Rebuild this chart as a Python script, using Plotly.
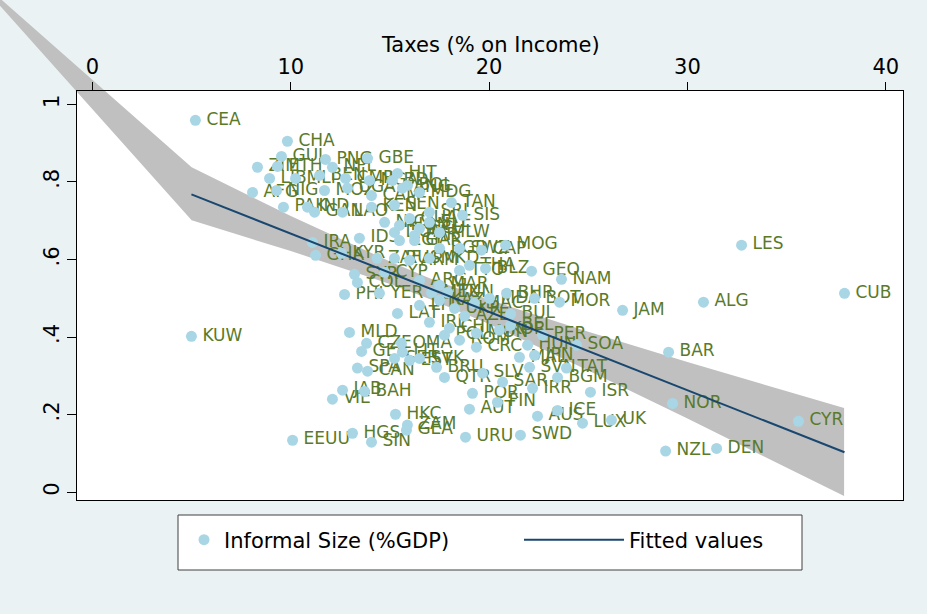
import plotly.graph_objects as go

# ---------------- data ----------------
codes = ["CEA","CHA","GUI","PNG","GBE","ZIM","ETH","NPL","HIT","LIB","MLI","BEN","CMR","NGA","BDI","BOL",
         "AFG","NIG","MOZ","UGA","CAM","ANG","MDG","PAK","IND","GAN","LAO","KEN","SEN","SRI","TAN","SIS",
         "NIC","HON","GUA","ECU","SLE","DOM","PAR","MLW","IRA","IDS","EGY","GAR","BGD","SWZ","CAP","MOG",
         "GHA","KYR","ZAF","RUS","ARM","MKD","SYR","CYP","COL","ARG","MAR","BLZ","TTO","THA","GEO","NAM",
         "PHI","YER","MEX","TUN","BHR","MDA","BOT","MOR","JAM","ALG","LES","CUB","LAT","LTU","KAZ","UKR",
         "AZE","BUL","BEL","MAC","IRL","CHI","MON","POL","ROM","KOR","MLD","CZE","OMA","GER","LIT","SER",
         "EST","SVK","SPA","CAN","BRU","QTR","SLV","SAR","SVN","TAT","SOA","HUN","PER","MAL","JPN","CRC",
         "BGM","POR","IRR","ISR","FIN","AUT","AUS","ICE","LUX","UK","NOR","BAR","NZL","DEN","CYR","SWD",
         "URU","HKC","ZAM","GEA","HGS","SIN","EEUU","JAB","BAH","VIE","KUW"]
tax = [5.19,9.83,9.53,11.75,13.87,8.32,9.33,12.10,15.38,8.93,10.24,11.45,12.76,13.97,15.13,15.88,
       8.07,9.28,11.70,12.86,14.07,15.63,16.49,9.63,10.84,11.20,12.61,14.07,15.23,16.99,18.10,18.66,
       14.73,15.48,15.99,16.49,16.99,15.23,16.24,17.50,11.09,13.46,15.48,16.24,17.50,18.51,19.62,20.83,
       11.25,12.56,14.35,15.23,15.99,16.99,13.21,14.73,13.36,16.49,17.50,19.82,18.51,19.01,22.14,23.65,
       12.71,14.47,17.10,17.90,20.88,20.02,22.29,23.55,26.73,30.81,32.73,37.92,15.38,16.49,17.50,18.26,
       18.76,21.08,21.08,19.26,16.99,18.00,19.36,17.75,18.51,20.52,12.96,13.82,15.58,13.57,15.63,15.23,
       15.99,16.49,13.36,13.87,17.35,17.75,19.67,20.68,22.04,23.90,24.41,21.94,22.69,21.53,22.29,19.36,
       23.45,19.16,22.19,25.11,20.42,19.01,22.44,23.45,24.71,26.17,29.25,29.05,28.90,31.47,35.60,21.58,
       18.81,15.28,15.88,15.83,13.11,14.07,10.09,12.61,13.72,12.10,4.99]
informal = [0.959,0.905,0.866,0.858,0.861,0.838,0.840,0.838,0.822,0.809,0.809,0.817,0.809,0.804,0.804,0.791,
            0.773,0.778,0.778,0.784,0.765,0.784,0.773,0.735,0.735,0.722,0.722,0.735,0.740,0.722,0.747,0.714,
            0.696,0.688,0.706,0.680,0.696,0.670,0.662,0.670,0.644,0.655,0.649,0.649,0.629,0.629,0.624,0.637,
            0.611,0.616,0.603,0.603,0.598,0.603,0.562,0.567,0.541,0.546,0.534,0.577,0.572,0.585,0.570,0.549,
            0.510,0.513,0.515,0.515,0.513,0.500,0.500,0.490,0.469,0.490,0.637,0.513,0.461,0.482,0.495,0.474,
            0.454,0.459,0.430,0.487,0.438,0.423,0.410,0.405,0.392,0.418,0.412,0.384,0.384,0.363,0.361,0.345,
            0.340,0.345,0.320,0.312,0.322,0.296,0.307,0.284,0.322,0.320,0.379,0.379,0.405,0.348,0.353,0.374,
            0.296,0.255,0.268,0.258,0.232,0.214,0.196,0.211,0.178,0.186,0.229,0.361,0.106,0.113,0.183,0.147,
            0.142,0.201,0.173,0.160,0.152,0.129,0.134,0.263,0.260,0.240,0.402]

fit_x = [4.99, 37.92]
fit_y = [0.768, 0.103]

band_x = [-6.23, 5.0, 10.0, 15.0, 17.0, 20.0, 25.0, 30.0, 37.9]
band_hi = [1.344, 0.838, 0.712, 0.595, 0.552, 0.496, 0.414, 0.336, 0.217]
band_lo = [1.344, 0.701, 0.622, 0.537, 0.498, 0.434, 0.314, 0.190, -0.010]

x_ticks = [0, 10, 20, 30, 40]
y_ticks = [0, 0.2, 0.4, 0.6, 0.8, 1.0]
y_ticktext = ["0", ".2", ".4", ".6", ".8", "1"]
x_title = "Taxes (% on Income)"

# ---------------- geometry / style ----------------
W, H = 927, 614
L, R, T, B = 77, 903, 91, 500
xr = [-0.78, 40.87]
yr = [-0.0201, 1.0346]
dx = [L / W, R / W]
dy = [1 - B / H, 1 - T / H]


def full_range(r, d):
    span = (r[1] - r[0]) / (d[1] - d[0])
    return [r[0] - d[0] * span, r[1] + (1 - d[1]) * span]


FONT = "DejaVu Sans"
BG = "#EAF2F3"
MARKER = "#A9D6E5"
LABEL = "#5A7A2A"
NAVY = "#1A476F"
BAND = "#C0C0C0"

fig = go.Figure()

# confidence band on a full-figure invisible subplot (overflows the plot region like the original)
fig.add_trace(go.Scatter(
    x=band_x + band_x[::-1], y=band_hi + band_lo[::-1],
    mode="lines", fill="toself", fillcolor=BAND, line=dict(width=0, color=BAND),
    xaxis="x2", yaxis="y2", showlegend=False, hoverinfo="skip"))

# labels
fig.add_trace(go.Scatter(
    x=tax, y=informal, text=codes, mode="markers+text", textposition="middle right",
    marker=dict(size=16, color="rgba(0,0,0,0)"),
    textfont=dict(family=FONT, size=17, color=LABEL),
    xaxis="x3", yaxis="y3", showlegend=False, hoverinfo="skip"))

# markers
fig.add_trace(go.Scatter(
    x=tax, y=informal, mode="markers", name="Informal Size (%GDP)",
    marker=dict(size=11, color=MARKER, line=dict(width=0)),
    xaxis="x3", yaxis="y3", legend="legend"))

# fitted line
fig.add_trace(go.Scatter(
    x=fit_x, y=fit_y, mode="lines", name="Fitted values",
    line=dict(color=NAVY, width=2),
    xaxis="x3", yaxis="y3", legend="legend2"))

fig.update_layout(
    width=W, height=H,
    margin=dict(l=0, r=0, t=0, b=0, pad=0),
    paper_bgcolor=BG, plot_bgcolor="rgba(0,0,0,0)",
    font=dict(family=FONT, size=21, color="black"),
    xaxis=dict(domain=dx, range=xr, anchor="y", showgrid=False, zeroline=False,
               showticklabels=False, ticks="", showline=False),
    yaxis=dict(domain=dy, range=yr, anchor="x", tickvals=y_ticks, showgrid=True,
               gridcolor="#E2ECEF", gridwidth=2, zeroline=False, showticklabels=False,
               ticks="", showline=False),
    xaxis2=dict(domain=[0, 1], range=full_range(xr, dx), anchor="y2", visible=False),
    yaxis2=dict(domain=[0, 1], range=full_range(yr, dy), anchor="x2", visible=False),
    xaxis3=dict(domain=dx, range=xr, anchor="y3", side="top", tickvals=x_ticks,
                ticks="outside", ticklen=8, tickcolor="black", tickwidth=1,
                showline=True, mirror=True, linecolor="black", linewidth=1,
                showgrid=False, zeroline=False,
                tickfont=dict(family=FONT, size=21, color="black")),
    yaxis3=dict(domain=dy, range=yr, anchor="x3", tickvals=y_ticks, ticktext=y_ticktext,
                tickangle=-90, ticks="outside", ticklen=9, tickcolor="black", tickwidth=1,
                showline=True, mirror=True, linecolor="black", linewidth=1,
                showgrid=False, zeroline=False,
                tickfont=dict(family=FONT, size=21, color="black")),
    annotations=[dict(text=x_title, xref="paper", yref="paper",
                      x=(dx[0] + dx[1]) / 2, y=1 - 45 / H, xanchor="center", yanchor="middle",
                      showarrow=False, font=dict(family=FONT, size=21, color="black"))],
    legend=dict(x=184 / W, y=1 - 540 / H, xanchor="left", yanchor="middle",
                orientation="h", bgcolor="rgba(0,0,0,0)", borderwidth=0,
                itemwidth=30, font=dict(family=FONT, size=21, color="black")),
    legend2=dict(x=519 / W, y=1 - 540 / H, xanchor="left", yanchor="middle",
                 orientation="h", bgcolor="rgba(0,0,0,0)", borderwidth=0,
                 itemwidth=100, font=dict(family=FONT, size=21, color="black")),
    shapes=[
        dict(type="rect", xref="paper", yref="paper", x0=dx[0], x1=dx[1], y0=dy[0], y1=dy[1],
             fillcolor="white", line=dict(width=0), layer="below"),
        dict(type="rect", xref="paper", yref="paper", x0=178 / W, x1=802 / W,
             y0=1 - 570 / H, y1=1 - 515 / H,
             fillcolor="white", line=dict(color="#404040", width=1), layer="below"),
    ],
)

fig.write_html("out.html", config={"displayModeBar": False},
               post_script="document.body.style.margin='0px';")
